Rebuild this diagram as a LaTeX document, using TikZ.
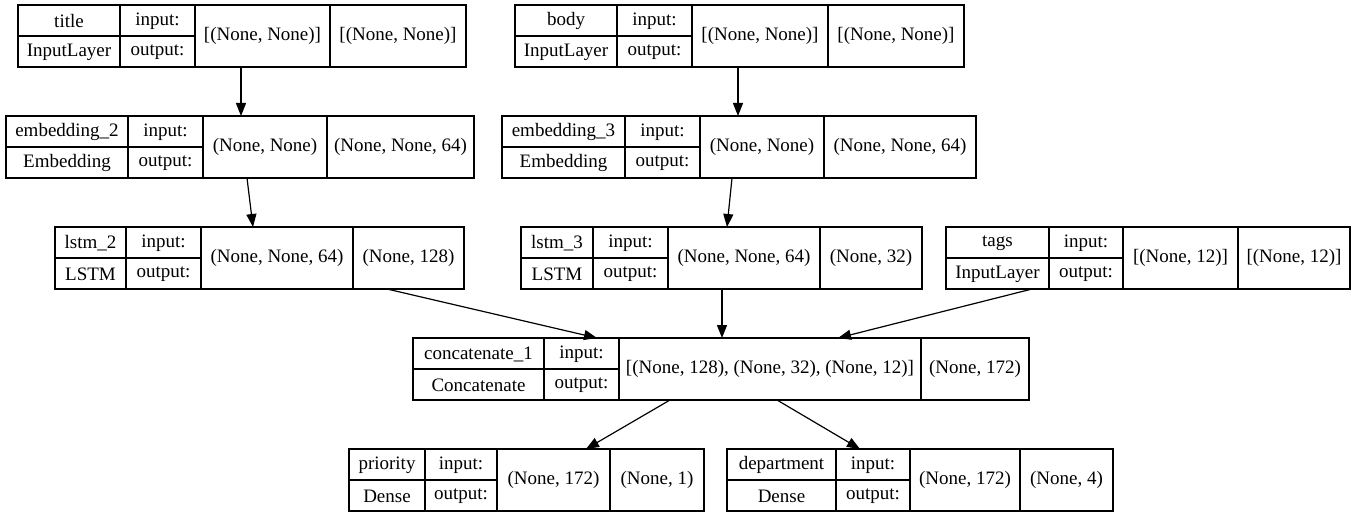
\documentclass[tikz,border=0pt]{standalone}
\usepackage{fontspec}
\setmainfont{Liberation Serif}
\usetikzlibrary{arrows.meta}

% column edges of the layer box that is drawn next
\newcommand\layercols[5]{\def\xa{#1}\def\xb{#2}\def\xc{#3}\def\xd{#4}\def\xe{#5}}
% #1 node name, #2 top y, #3 layer name, #4 layer class, #5 input shape, #6 output shape
\newcommand\layer[6]{%
  \pgfmathsetmacro\bw{\xe-\xa}
  \node[layerbox, minimum width=\bw pt, anchor=north west] (#1) at (\xa,#2) {};
  \draw[cellrule] (\xb,#2) -- (\xb,#2+62);
  \draw[cellrule] (\xc,#2) -- (\xc,#2+62);
  \draw[cellrule] (\xd,#2) -- (\xd,#2+62);
  \draw[cellrule] (\xa,#2+31) -- (\xc,#2+31);
  \node[celltext] at ({(\xa+\xb)/2},#2+16) {#3};
  \node[celltext] at ({(\xa+\xb)/2},#2+47) {#4};
  \node[celltext] at ({(\xb+\xc)/2},#2+16) {input:};
  \node[celltext] at ({(\xb+\xc)/2},#2+47) {output:};
  \node[celltext] at ({(\xc+\xd)/2},#2+31) {#5};
  \node[celltext] at ({(\xd+\xe)/2},#2+31) {#6};
}

\tikzset{
  layerbox/.style={draw, line width=1.2pt, inner sep=0pt, outer sep=0pt, minimum height=62pt},
  cellrule/.style={line width=1.2pt},
  celltext/.style={inner sep=0pt, anchor=center, font=\rmfamily\fontsize{19}{22}\selectfont},
  link/.style={line width=1.2pt, -{Triangle[length=13pt,width=10pt]}}
}

\begin{document}
\begin{tikzpicture}[x=1pt, y=-1pt]
\fill[white] (0,0) rectangle (1359,516);
\useasboundingbox (0,0) rectangle (1359,516);

\layercols{18}{120}{195}{330}{466}
\layer{title}{5}{title}{InputLayer}{[(None, None)]}{[(None, None)]}
\layercols{515}{617}{692}{828}{964}
\layer{body}{5}{body}{InputLayer}{[(None, None)]}{[(None, None)]}

\layercols{6}{128}{203}{327}{474}
\layer{emb2}{116}{embedding\_2}{Embedding}{(None, None)}{(None, None, 64)}
\layercols{502}{625}{700}{824}{976}
\layer{emb3}{116}{embedding\_3}{Embedding}{(None, None)}{(None, None, 64)}

\layercols{55}{126}{201}{353}{464}
\layer{lstm2}{227}{lstm\_2}{LSTM}{(None, None, 64)}{(None, 128)}
\layercols{521}{593}{668}{820}{922}
\layer{lstm3}{227}{lstm\_3}{LSTM}{(None, None, 64)}{(None, 32)}
\layercols{946}{1049}{1123}{1238}{1350}
\layer{tags}{227}{tags}{InputLayer}{[(None, 12)]}{[(None, 12)]}

\layercols{413}{544}{619}{921}{1029}
\layer{concat}{338}{concatenate\_1}{Concatenate}{[(None, 128), (None, 32), (None, 12)]}{(None, 172)}

\layercols{349}{425}{497}{610}{704}
\layer{priority}{449}{priority}{Dense}{(None, 172)}{(None, 1)}
\layercols{727}{836}{910}{1020}{1113}
\layer{dept}{449}{department}{Dense}{(None, 172)}{(None, 4)}

% connectors
\draw[link] ([xshift=223pt]title.south west) -- ([xshift=235pt]emb2.north west);
\draw[link] ([xshift=223pt]body.south west) -- ([xshift=236pt]emb3.north west);
\draw[link] ([xshift=241pt]emb2.south west) -- ([xshift=198pt]lstm2.north west);
\draw[link] ([xshift=230pt]emb3.south west) -- ([xshift=206pt]lstm3.north west);
\draw[link] ([xshift=332pt]lstm2.south west) -- ([xshift=184pt]concat.north west);
\draw[link] ([xshift=201pt]lstm3.south west) -- ([xshift=309pt]concat.north west);
\draw[link] ([xshift=86pt]tags.south west) -- ([xshift=425pt]concat.north west);
\draw[link] ([xshift=257pt]concat.south west) -- ([xshift=237pt]priority.north west);
\draw[link] ([xshift=364pt]concat.south west) -- ([xshift=133pt]dept.north west);
\end{tikzpicture}
\end{document}
